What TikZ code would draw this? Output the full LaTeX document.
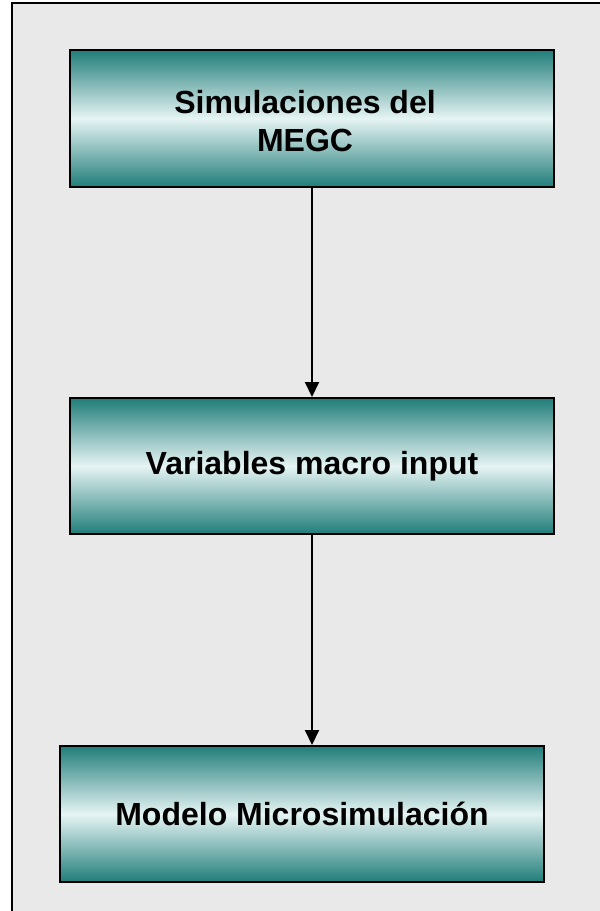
\documentclass[tikz,border=0pt]{standalone}
\usepackage{fontspec}
\setmainfont{Liberation Sans}
\usetikzlibrary{arrows.meta}
\definecolor{bgc}{RGB}{233,233,233}
\definecolor{tealc}{RGB}{32,125,121}
\definecolor{lightc}{RGB}{230,244,244}
\tikzset{
  stepbox/.style={draw=black, line width=2pt, rectangle, inner sep=0pt,
    top color=tealc, bottom color=tealc, middle color=lightc,
    font=\fontsize{32}{38}\selectfont\bfseries, align=center, text=black},
  boxtext/.style={font=\fontsize{32}{38}\selectfont\bfseries, align=center, text=black, inner sep=0pt},
  conn/.style={draw=black, line width=2pt, -{Triangle[width=14pt,length=15pt]}}
}
\begin{document}
\begin{tikzpicture}[x=1pt,y=-1pt]
\useasboundingbox (0,0) rectangle (600,911);
\fill[white] (0,0) rectangle (600,911);
\begin{scope}
\clip (0,0) rectangle (600,911);
\draw[fill=bgc, line width=2pt] (12,3) rectangle (620,930);
\end{scope}
\node[stepbox, minimum width=484pt, minimum height=137pt,
  label={[boxtext, xshift=-7pt, yshift=-3pt]center:Simulaciones del\\MEGC}] (b1) at (312,118.5) {};
\node[stepbox, minimum width=484pt, minimum height=136pt] (b2) at (312,466) {Variables macro input};
\node[stepbox, minimum width=484pt, minimum height=136pt] (b3) at (302,814) {Modelo Microsimulación};
\draw[conn] (b1.south) -- (b2.north);
\draw[conn] (b2.south) -- (b2.south |- b3.north);
\end{tikzpicture}
\end{document}
